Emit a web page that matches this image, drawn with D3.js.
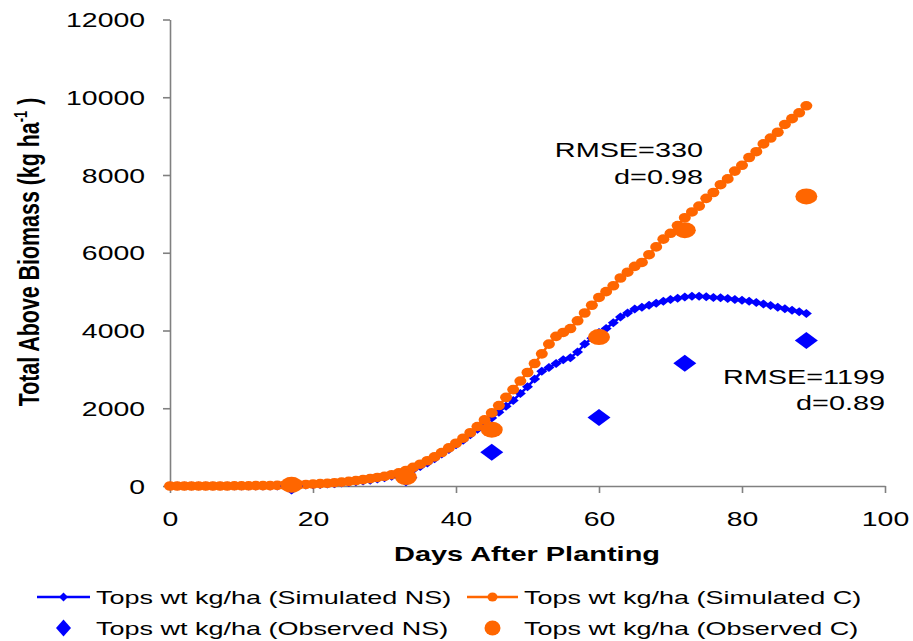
<!DOCTYPE html>
<html>
<head>
<meta charset="utf-8">
<script src="https://cdn.jsdelivr.net/npm/d3@7"></script>
<style>
  html, body { margin: 0; padding: 0; background: #fff; }
  svg { display: block; font-family: "Liberation Sans", Arial, sans-serif; }
</style>
</head>
<body>
<svg id="chart" width="913" height="641"></svg>
<script>
// ---------- DATA ----------
const simDays = d3.range(0, 90);
const simNS = [0,0,0,0,0,0,0,0,0,0, 0,0,0,0,0,0,5,10,20,25,
  30,40,50,60,75,90,110,130,150,180, 210,250,300,350,420,500,590,700,820,940,
  1060,1180,1320,1460,1600,1750,1900,2050,2200,2380, 2550,2750,2950,3050,3150,3250,3300,3450,3650,3800,
  3950,4050,4200,4350,4450,4550,4600,4650,4700,4750, 4800,4830,4860,4880,4880,4870,4850,4840,4820,4800,
  4780,4750,4720,4680,4640,4600,4560,4520,4480,4440];
const simC = [0,0,0,0,0,0,0,0,0,5, 5,5,10,10,10,15,20,25,30,40,
  50,60,70,85,100,120,140,165,190,220, 250,290,340,400,480,560,650,750,860,980,
  1100,1230,1370,1530,1700,1880,2070,2280,2480,2700, 2920,3150,3400,3650,3850,3950,4050,4250,4450,4650,
  4850,5000,5150,5350,5500,5650,5750,5950,6150,6350, 6500,6700,6900,7050,7200,7400,7550,7750,7900,8100,
  8250,8450,8600,8800,8950,9100,9300,9450,9600,9780];
const obsDays = [17, 33, 45, 60, 72, 89];
const obsNS = [0, 210, 870, 1760, 3160, 3740];
const obsC = [30, 230, 1450, 3830, 6580, 7450];
const xTicks = [0, 20, 40, 60, 80, 100];
const yTicks = [0, 2000, 4000, 6000, 8000, 10000, 12000];
const legendLabels = ["Tops wt kg/ha (Simulated NS)", "Tops wt kg/ha (Simulated C)",
                      "Tops wt kg/ha (Observed NS)", "Tops wt kg/ha (Observed C)"];
const statsC = ["RMSE=330", "d=0.98"];
const statsNS = ["RMSE=1199", "d=0.89"];

// ---------- SETUP ----------
const SX = 1.42; // horizontal text stretch seen in the reference
const BLUE = "#0000FF", ORANGE = "#FF6600", AXIS = "#808080";
const svg = d3.select("#chart");
const x = d3.scaleLinear().domain([0, 100]).range([170, 885]);
const y = d3.scaleLinear().domain([0, 12000]).range([486, 19.5]);

function stext(g, tx, ty, str, size, anchor, weight) {
  return g.append("text")
    .attr("transform", `translate(${tx},${ty}) scale(${SX},1)`)
    .attr("text-anchor", anchor || "start")
    .attr("font-size", size)
    .attr("font-weight", weight || "normal")
    .attr("fill", "#000")
    .text(str);
}

// ---------- AXES ----------
const yAxis = svg.append("g").attr("transform", `translate(${x(0)},0)`)
  .call(d3.axisLeft(y).tickValues(yTicks).tickSize(7).tickSizeOuter(0).tickFormat(d3.format("d")));
const xAxis = svg.append("g").attr("transform", `translate(0,${y(0)})`)
  .call(d3.axisBottom(x).tickValues(xTicks).tickSize(7).tickSizeOuter(0).tickFormat(d3.format("d")));
[yAxis, xAxis].forEach(a => {
  a.select(".domain").attr("stroke", AXIS).attr("stroke-width", 1.6);
  a.selectAll(".tick line").attr("stroke", AXIS).attr("stroke-width", 1.6);
  a.selectAll(".tick text").attr("fill", "#000").attr("font-size", 20)
    .attr("font-family", "'Liberation Sans', Arial, sans-serif");
});
yAxis.selectAll(".tick text").attr("x", null).attr("dy", null).attr("y", null)
  .attr("transform", `translate(-25,7) scale(${SX},1)`);
xAxis.selectAll(".tick text").attr("x", null).attr("dy", null).attr("y", null)
  .attr("transform", `translate(0,40) scale(${SX},1)`);

// Axis titles
stext(svg, 527, 561, "Days After Planting", 20.4, "middle", "bold");
const yt = svg.append("text")
  .attr("transform", `translate(38.5,252) scale(${SX},1) rotate(-90)`)
  .attr("text-anchor", "middle").attr("font-size", 21.4).attr("font-weight", "bold");
yt.append("tspan").text("Total Above Biomass (kg ha");
yt.append("tspan").attr("dy", -8).attr("font-size", 13).text("-1");
yt.append("tspan").attr("dy", 8).text(" )");

// ---------- SERIES ----------
const diamond = (w, h) => `M0,${-h/2}L${w/2},0L0,${h/2}L${-w/2},0Z`;
const line = d3.line().x(d => x(d[0])).y(d => y(d[1]));
const nsPts = simDays.map((d, i) => [d, simNS[i]]);
const cPts = simDays.map((d, i) => [d, simC[i]]);

// Simulated NS
svg.append("path").datum(nsPts).attr("d", line).attr("fill", "none")
  .attr("stroke", BLUE).attr("stroke-width", 2.5);
svg.append("g").selectAll("path").data(nsPts).join("path")
  .attr("transform", d => `translate(${x(d[0])},${y(d[1])})`)
  .attr("d", diamond(11, 9)).attr("fill", BLUE);

// Simulated C
svg.append("path").datum(cPts).attr("d", line).attr("fill", "none")
  .attr("stroke", ORANGE).attr("stroke-width", 2.5);
svg.append("g").selectAll("ellipse").data(cPts).join("ellipse")
  .attr("cx", d => x(d[0])).attr("cy", d => y(d[1]))
  .attr("rx", 6).attr("ry", 4.8).attr("fill", ORANGE);

// Observed NS
svg.append("g").selectAll("path").data(obsDays.map((d, i) => [d, obsNS[i]])).join("path")
  .attr("transform", d => `translate(${x(d[0])},${y(d[1])})`)
  .attr("d", diamond(23, 17)).attr("fill", BLUE);

// Observed C
svg.append("g").selectAll("ellipse").data(obsDays.map((d, i) => [d, obsC[i]])).join("ellipse")
  .attr("cx", d => x(d[0])).attr("cy", d => y(d[1]))
  .attr("rx", 11).attr("ry", 8).attr("fill", ORANGE);

// ---------- ANNOTATIONS ----------
stext(svg, 703, 157, statsC[0], 20.3, "end");
stext(svg, 703, 184, statsC[1], 20.3, "end");
stext(svg, 885, 384, statsNS[0], 20.3, "end");
stext(svg, 885, 410, statsNS[1], 20.3, "end");

// ---------- LEGEND ----------
const lg = svg.append("g");
const rows = [597, 628];
const cols = [{x0: 37, x1: 90, tx: 96}, {x0: 467, x1: 518, tx: 524}];
// row 1: lines
lg.append("line").attr("x1", cols[0].x0).attr("x2", cols[0].x1).attr("y1", rows[0]).attr("y2", rows[0])
  .attr("stroke", BLUE).attr("stroke-width", 2.5);
lg.append("path").attr("transform", `translate(${(cols[0].x0 + cols[0].x1) / 2},${rows[0]})`)
  .attr("d", diamond(9, 9)).attr("fill", BLUE);
lg.append("line").attr("x1", cols[1].x0).attr("x2", cols[1].x1).attr("y1", rows[0]).attr("y2", rows[0])
  .attr("stroke", ORANGE).attr("stroke-width", 2.5);
lg.append("ellipse").attr("cx", (cols[1].x0 + cols[1].x1) / 2).attr("cy", rows[0])
  .attr("rx", 5).attr("ry", 4.5).attr("fill", ORANGE);
// row 2: markers
lg.append("path").attr("transform", `translate(${(cols[0].x0 + cols[0].x1) / 2},${rows[1]})`)
  .attr("d", diamond(15, 17)).attr("fill", BLUE);
lg.append("ellipse").attr("cx", (cols[1].x0 + cols[1].x1) / 2).attr("cy", rows[1])
  .attr("rx", 8).attr("ry", 7.5).attr("fill", ORANGE);
legendLabels.forEach((t, i) => {
  const c = cols[i % 2], r = rows[Math.floor(i / 2)];
  stext(lg, c.tx, r + 7, t, 19, "start");
});
</script>
</body>
</html>
